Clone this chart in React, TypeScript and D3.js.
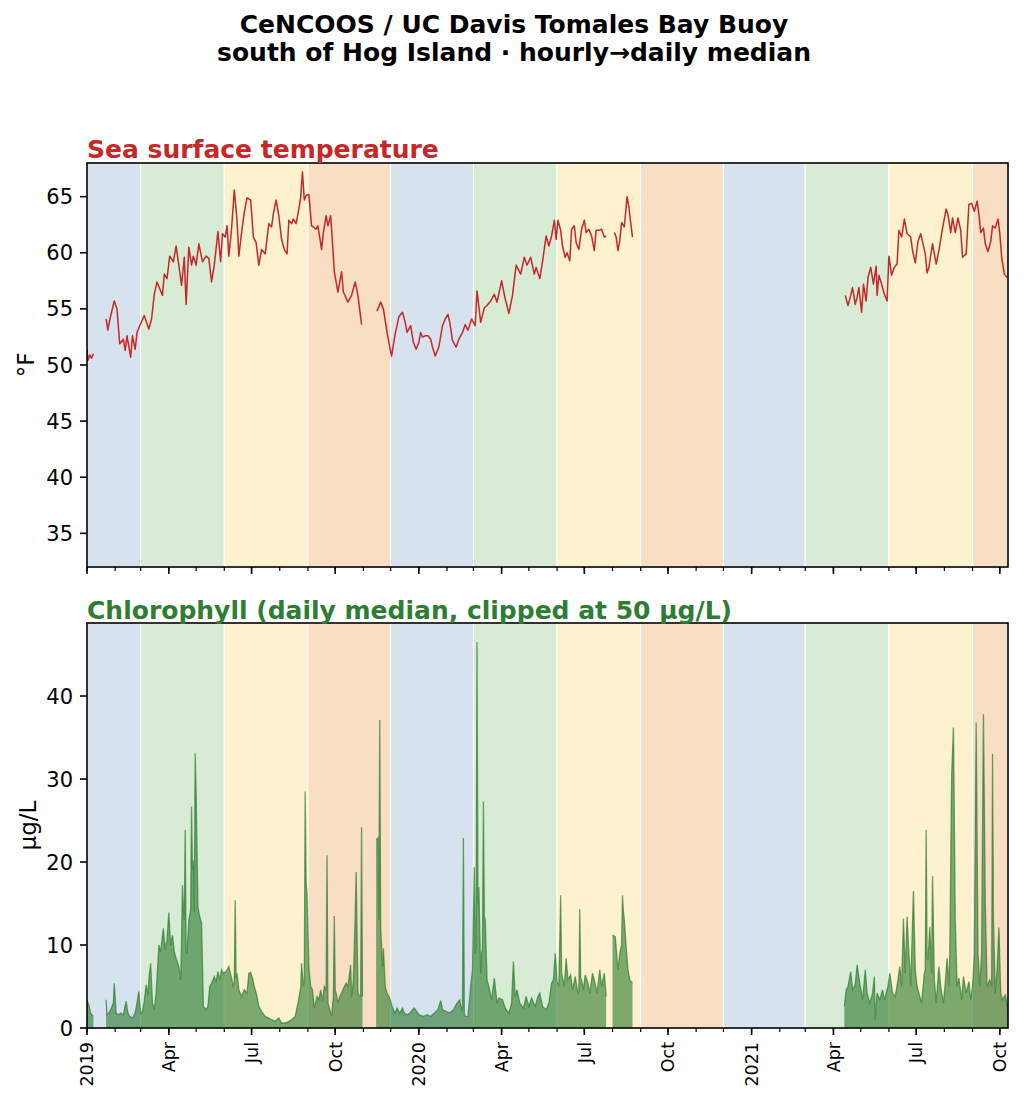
import React from 'react';
import * as d3 from 'd3';

// day offsets are counted from 2019-01-01, values are daily medians
const sst2019a: [number, number][] = [[0, 51.4], [1, 50.4], [3, 50.9], [5, 50.6], [7, 51.0]];
const sst2019b: [number, number][] = [
  [21, 54.1], [23, 53.1], [25, 54.0], [27, 54.7], [30, 55.7], [33, 55.0], [35, 52.9], [36, 51.9], [40, 52.3], [42, 51.3],
  [44, 52.6], [48, 50.7], [50, 52.6], [53, 51.4], [55, 52.9], [58, 53.5], [63, 54.4], [68, 53.2], [71, 54.1], [74, 56.3],
  [77, 57.4], [80, 56.8], [83, 56.2], [85, 58.1], [88, 57.7], [91, 59.7], [95, 59.2], [98, 60.6], [101, 58.9], [104, 57.1],
  [107, 59.6], [109, 55.4], [112, 60.5], [115, 58.9], [117, 59.7], [120, 58.9], [123, 60.8], [127, 59.2], [131, 59.7], [134, 59.5],
  [137, 57.4], [140, 58.9], [144, 61.9], [147, 59.2], [149, 61.7], [152, 61.4], [154, 62.4], [156, 59.7], [159, 62.1], [162, 65.6],
  [165, 62.9], [167, 59.7], [170, 61.8], [173, 63.6], [176, 64.9], [180, 64.7], [183, 61.4], [186, 60.9], [189, 58.9], [192, 60.3],
  [196, 59.9], [200, 62.6], [203, 62.3], [205, 63.5], [208, 64.7], [211, 63.3], [214, 61.2], [217, 60.3], [220, 59.9], [222, 62.9],
  [225, 62.6], [227, 63.0], [230, 62.6], [233, 63.9], [235, 64.9], [237, 67.2], [239, 64.7], [241, 65.1], [244, 65.2], [247, 62.4],
  [249, 62.3], [252, 62.1], [254, 62.4], [258, 60.3], [260, 61.8], [263, 63.3], [265, 62.4], [268, 63.3], [270, 60.9], [272, 58.3],
  [276, 56.5], [280, 58.3], [282, 56.5], [287, 55.6], [291, 56.2], [295, 57.4], [298, 56.2], [302, 53.6],
];
const sst2019c: [number, number][] = [
  [319, 54.8], [323, 55.6], [326, 55.0], [330, 52.9], [333, 51.6], [335, 50.8], [339, 52.8], [341, 53.5], [343, 54.3], [347, 54.7],
  [350, 53.8], [352, 52.9], [356, 53.5], [359, 52.0], [362, 51.4], [365, 52.0], [367, 52.9], [369, 52.5], [372, 52.6], [375, 52.6],
  [378, 52.3], [380, 51.6], [383, 50.8], [387, 51.6], [391, 53.5], [394, 54.1], [397, 54.5], [399, 53.8], [402, 52.2], [406, 51.6],
  [409, 52.3], [413, 52.9], [416, 53.6], [419, 53.1], [423, 54.1], [427, 53.5], [429, 56.6], [433, 53.8], [437, 55.1], [440, 55.3],
  [444, 55.7], [448, 56.3], [451, 55.6], [456, 57.5], [460, 55.9], [464, 54.6], [468, 56.2], [472, 58.9], [477, 58.1], [481, 59.6],
  [484, 58.9], [488, 59.6], [492, 58.1], [494, 58.7], [498, 57.7], [501, 59.2], [505, 61.5], [508, 60.6], [511, 61.5], [514, 62.9],
  [516, 61.2], [518, 62.9], [521, 62.0], [523, 60.6], [526, 59.6], [528, 60.0], [531, 59.3], [533, 62.1], [536, 62.4], [538, 60.9],
  [541, 60.3], [544, 62.1], [547, 62.9], [549, 61.8], [552, 62.1], [555, 61.5], [558, 60.2], [560, 62.0], [563, 62.0], [566, 62.1],
  [569, 61.4], [571, 61.5],
];
const sst2020: [number, number][] = [
  [580, 61.8], [582, 61.4], [584, 60.2], [586, 61.1], [588, 62.7], [591, 62.3], [594, 65.0], [596, 64.1], [598, 62.7], [600, 61.4],
];
const sst2021: [number, number][] = [
  [834, 56.2], [837, 55.3], [840, 56.2], [842, 56.9], [845, 55.4], [847, 56.0], [849, 56.9], [852, 54.7], [854, 57.2], [857, 55.7],
  [859, 57.8], [862, 58.7], [865, 57.2], [868, 58.8], [869, 56.2], [871, 58.0], [874, 57.2], [877, 56.3], [880, 55.7], [882, 59.7],
  [885, 58.0], [888, 58.7], [891, 59.0], [893, 62.0], [896, 61.4], [899, 63.0], [902, 61.7], [906, 61.4], [908, 60.2], [911, 59.1],
  [914, 61.0], [917, 61.7], [919, 61.0], [922, 59.9], [924, 58.2], [926, 58.7], [930, 60.8], [934, 59.0], [937, 60.2], [941, 62.2],
  [945, 63.9], [947, 63.4], [950, 61.8], [952, 63.1], [955, 61.8], [958, 63.1], [961, 62.0], [963, 59.6], [967, 59.9], [970, 64.3],
  [973, 64.4], [976, 63.7], [979, 64.6], [981, 63.4], [983, 61.8], [986, 62.2], [988, 60.8], [991, 60.1], [994, 61.0], [996, 62.4],
  [999, 62.2], [1002, 63.0], [1004, 61.7], [1006, 59.6], [1009, 58.1], [1012, 57.8],
];

const chl2019a: [number, number][] = [[0, 3.3], [2, 2.8], [4, 1.8], [6, 1.5], [7, 1.4]];
const chl2019b: [number, number][] = [
  [21, 3.4], [22, 1.6], [24, 1.8], [26, 2.2], [29, 3.0], [30, 5.4], [32, 1.8], [35, 1.6], [37, 1.8], [40, 1.6],
  [43, 3.2], [45, 1.8], [47, 1.4], [50, 1.2], [53, 1.8], [55, 3.0], [57, 4.4], [59, 1.8], [61, 2.0], [63, 3.2],
  [65, 5.2], [67, 4.0], [68, 5.8], [70, 7.8], [72, 3.0], [74, 2.2], [76, 4.2], [78, 7.8], [79, 10.0], [81, 9.2],
  [84, 12.0], [86, 9.4], [88, 10.6], [90, 13.9], [92, 10.0], [94, 11.2], [96, 9.2], [98, 8.4], [101, 7.4], [103, 5.8],
  [104, 10.3], [105, 17.2], [106, 14.2], [107, 13.0], [108, 23.9], [109, 9.5], [110, 9.0], [112, 13.0], [114, 14.2], [115, 26.7],
  [116, 19.0], [117, 20.2], [118, 14.0], [119, 33.1], [120, 28.3], [122, 14.6], [124, 13.4], [126, 12.6], [128, 2.6], [131, 2.2],
  [133, 2.6], [135, 5.0], [137, 5.4], [140, 6.2], [142, 5.6], [144, 6.8], [146, 5.8], [148, 7.0], [150, 6.6], [153, 6.8],
  [155, 7.2], [156, 7.4], [159, 6.0], [161, 5.0], [162, 5.5], [163, 15.4], [164, 6.0], [165, 6.6], [167, 4.6], [170, 3.8],
  [173, 4.6], [176, 4.2], [178, 6.6], [180, 6.7], [182, 6.0], [184, 5.0], [187, 3.8], [189, 2.6], [192, 2.0], [196, 1.4],
  [200, 1.2], [203, 1.0], [207, 0.8], [211, 1.2], [214, 0.6], [218, 0.6], [222, 0.8], [225, 1.0], [229, 1.4], [232, 3.0],
  [235, 4.8], [236, 7.8], [238, 5.0], [239, 5.8], [240, 28.5], [241, 17.5], [242, 16.2], [244, 7.4], [246, 5.0], [248, 4.6],
  [250, 2.4], [253, 3.8], [255, 3.4], [257, 4.6], [259, 3.2], [261, 5.0], [263, 4.5], [264, 20.8], [265, 3.0], [267, 2.2],
  [269, 1.4], [271, 3.8], [272, 13.5], [273, 4.5], [274, 4.2], [276, 3.0], [278, 3.8], [280, 4.2], [283, 5.0], [285, 5.4],
  [287, 5.0], [290, 7.6], [291, 3.8], [293, 5.8], [295, 13.4], [296, 18.8], [298, 4.2], [300, 3.8], [301, 3.8], [302, 24.2],
  [303, 3.8],
];
const chl2019c: [number, number][] = [
  [318, 22.7], [320, 22.9], [321, 13.0], [322, 37.1], [323, 12.2], [325, 7.4], [326, 9.6], [328, 5.0], [330, 4.2], [333, 3.6],
  [335, 2.8], [337, 2.2], [339, 1.8], [341, 2.4], [344, 1.8], [347, 2.4], [349, 1.8], [352, 1.6], [355, 1.8], [358, 2.2],
  [360, 2.4], [365, 1.6], [370, 1.4], [374, 1.6], [378, 1.4], [382, 1.8], [386, 2.2], [389, 3.3], [391, 2.2], [395, 2.0],
  [399, 1.8], [403, 2.2], [407, 3.0], [410, 3.4], [412, 2.2], [413, 2.5], [414, 22.9], [415, 1.8], [416, 1.4], [419, 1.4],
  [422, 5.0], [424, 7.0], [426, 19.4], [427, 9.0], [428, 10.0], [429, 46.5], [430, 15.0], [431, 17.0], [433, 6.6], [434, 9.0],
  [435, 9.5], [436, 27.3], [437, 13.5], [438, 13.0], [440, 5.8], [442, 5.0], [445, 3.4], [448, 6.0], [451, 3.0], [453, 3.6],
  [457, 3.4], [460, 2.4], [464, 1.8], [467, 3.0], [469, 8.0], [471, 3.8], [473, 4.6], [476, 3.0], [480, 2.4], [483, 3.8],
  [486, 2.6], [489, 3.6], [493, 2.6], [496, 3.8], [498, 4.2], [501, 2.6], [505, 2.2], [508, 3.0], [511, 5.4], [513, 5.8],
  [515, 9.0], [517, 5.6], [519, 5.0], [521, 16.0], [522, 6.6], [525, 5.0], [527, 8.4], [529, 5.8], [532, 6.4], [534, 4.6],
  [537, 6.2], [540, 4.2], [541, 4.5], [542, 14.3], [543, 6.0], [544, 5.8], [546, 4.6], [548, 6.4], [551, 5.4], [553, 4.2],
  [556, 6.6], [558, 5.8], [561, 4.2], [564, 7.0], [566, 5.0], [569, 6.6], [571, 3.8],
];
const chl2020: [number, number][] = [
  [578, 11.2], [581, 11.0], [584, 7.0], [586, 9.0], [588, 10.0], [589, 16.0], [590, 14.0], [591, 13.0], [593, 9.8], [595, 7.0],
  [597, 5.8], [600, 5.4],
];
const chl2021: [number, number][] = [
  [833, 2.6], [835, 4.6], [837, 5.0], [840, 6.8], [842, 4.6], [845, 5.2], [847, 7.6], [850, 5.4], [853, 3.4], [856, 7.0],
  [858, 4.2], [861, 3.0], [864, 4.2], [866, 6.2], [867, 1.0], [869, 4.2], [872, 3.4], [875, 4.6], [877, 3.4], [881, 5.0],
  [883, 6.6], [886, 4.2], [889, 3.8], [892, 5.8], [894, 7.4], [896, 5.0], [898, 13.2], [900, 6.6], [902, 13.4], [904, 9.0],
  [906, 5.0], [907, 9.0], [909, 16.5], [911, 7.0], [913, 5.0], [916, 3.8], [918, 3.0], [921, 6.6], [922, 7.0], [923, 23.9],
  [924, 8.5], [925, 8.2], [927, 12.2], [929, 6.6], [930, 18.3], [932, 5.8], [934, 3.0], [937, 7.4], [939, 5.0], [942, 3.0],
  [944, 5.4], [946, 8.4], [948, 5.0], [949, 9.2], [951, 30.3], [953, 36.2], [955, 13.0], [957, 5.0], [959, 6.0], [962, 3.4],
  [964, 6.2], [967, 4.2], [970, 5.6], [972, 3.4], [974, 5.0], [976, 9.0], [978, 36.8], [980, 9.0], [982, 5.0], [984, 9.0],
  [986, 37.8], [988, 15.0], [990, 5.0], [993, 5.8], [995, 5.0], [996, 33.0], [997, 13.0], [999, 4.2], [1001, 7.0], [1003, 12.1],
  [1005, 4.2], [1007, 3.4], [1010, 4.0], [1013, 2.2],
];

const sstSegments = [sst2019a, sst2019b, sst2019c, sst2020, sst2021];
const chlSegments = [chl2019a, chl2019b, chl2019c, chl2020, chl2021];

const sstTicks = [35, 40, 45, 50, 55, 60, 65];
const chlTicks = [0, 10, 20, 30, 40];

// season of each band, keyed by the month it starts in
const seasonMonths = [11, 2, 5, 8];
const seasonColors = ['#d6e2ee', '#d8ebd5', '#fef1cd', '#f8dec3'];

const FONT = 'DejaVu Sans, sans-serif';
const W = 1026;
const H = 1105;
const left = 87;
const right = 1008;
const top1 = 163, bottom1 = 567;
const top2 = 623, bottom2 = 1028;

const day = (d: number) => new Date(2019, 0, 1 + d);

export default function App() {
  const x = d3.scaleTime().domain([day(0), day(1013)]).range([left, right]);
  const ySst = d3.scaleLinear().domain([32, 68]).range([bottom1, top1]);
  const yChl = d3.scaleLinear().domain([0, 48.8]).range([bottom2, top2]);

  const [d0, d1] = x.domain();
  const bounds: Date[] = [];
  for (let yr = 2018; yr <= 2021; yr++) {
    [2, 5, 8, 11].forEach((m) => bounds.push(new Date(yr, m, 1)));
  }
  const bands = bounds.slice(0, -1).map((b, i) => {
    const s = b < d0 ? d0 : b;
    const e = bounds[i + 1] > d1 ? d1 : bounds[i + 1];
    return { s, e, color: seasonColors[seasonMonths.indexOf(b.getMonth())] };
  }).filter((b) => b.e > b.s);

  const majors = d3.timeMonth.every(3)!.range(d0, d1);
  const minors = d3.timeMonth.range(d0, d1);
  const fmt = (d: Date) => (d.getMonth() === 0 ? d3.timeFormat('%Y')(d) : d3.timeFormat('%b')(d));

  const sstLine = d3.line<[number, number]>().x((p) => x(day(p[0]))).y((p) => ySst(p[1]));
  const chlLine = d3.line<[number, number]>().x((p) => x(day(p[0]))).y((p) => yChl(p[1]));
  const chlArea = d3.area<[number, number]>().x((p) => x(day(p[0]))).y0(yChl(0)).y1((p) => yChl(p[1]));

  const panel = (top: number, bottom: number, y: d3.ScaleLinear<number, number>, ticks: number[], showLabels: boolean) => (
    <g>
      {bands.map((b, i) => (
        <rect key={i} x={x(b.s)} y={top} width={x(b.e) - x(b.s)} height={bottom - top}
          fill={b.color} stroke="#ffffff" strokeWidth={1} />
      ))}
      {ticks.map((t) => (
        <g key={t}>
          <line x1={left - 7} x2={left} y1={y(t)} y2={y(t)} stroke="#000" strokeWidth={1.6} />
          <text x={left - 14} y={y(t)} dy="0.36em" textAnchor="end" fontSize={21} fontFamily={FONT}>{t}</text>
        </g>
      ))}
      {minors.map((m, i) => (
        <line key={'m' + i} x1={x(m)} x2={x(m)} y1={bottom} y2={bottom + 4} stroke="#000" strokeWidth={1.2} />
      ))}
      {majors.map((m, i) => (
        <g key={'M' + i}>
          <line x1={x(m)} x2={x(m)} y1={bottom} y2={bottom + 7} stroke="#000" strokeWidth={1.6} />
          {showLabels && (
            <text transform={`translate(${x(m)},${bottom + 14}) rotate(-90)`} textAnchor="end" dy="0.36em"
              fontSize={17.5} fontFamily={FONT}>{fmt(m)}</text>
          )}
        </g>
      ))}
    </g>
  );

  return (
    <svg width={W} height={H} style={{ position: 'absolute', left: 0, top: 0, background: '#fff' }}>
      <rect width={W} height={H} fill="#fff" />
      <text x={514} y={33} textAnchor="middle" fontSize={25} fontWeight="bold" fontFamily={FONT}>
        CeNCOOS / UC Davis Tomales Bay Buoy
      </text>
      <text x={514} y={61} textAnchor="middle" fontSize={25} fontWeight="bold" fontFamily={FONT}>
        south of Hog Island · hourly→daily median
      </text>

      {panel(top1, bottom1, ySst, sstTicks, false)}
      <defs>
        <clipPath id="c1"><rect x={left} y={top1} width={right - left} height={bottom1 - top1} /></clipPath>
        <clipPath id="c2"><rect x={left} y={top2} width={right - left} height={bottom2 - top2} /></clipPath>
      </defs>
      <g clipPath="url(#c1)">
        {sstSegments.map((s, i) => (
          <path key={i} d={sstLine(s) || ''} fill="none" stroke="#c62828" strokeWidth={1.5} strokeLinejoin="round" />
        ))}
      </g>
      <rect x={left} y={top1} width={right - left} height={bottom1 - top1} fill="none" stroke="#000" strokeWidth={1.6} />
      <text x={left} y={158} fontSize={25} fontWeight="bold" fill="#c62828" fontFamily={FONT}>Sea surface temperature</text>
      <text transform={`translate(26,${(top1 + bottom1) / 2}) rotate(-90)`} textAnchor="middle" dy="0.36em"
        fontSize={23} fontFamily={FONT}>°F</text>

      {panel(top2, bottom2, yChl, chlTicks, true)}
      <g clipPath="url(#c2)">
        {chlSegments.map((s, i) => (
          <g key={i}>
            <path d={chlArea(s) || ''} fill="#2e7d32" fillOpacity={0.62} stroke="none" />
            <path d={chlLine(s) || ''} fill="none" stroke="#2e7d32" strokeOpacity={0.7} strokeWidth={1.3} />
          </g>
        ))}
      </g>
      <rect x={left} y={top2} width={right - left} height={bottom2 - top2} fill="none" stroke="#000" strokeWidth={1.6} />
      <text x={left} y={619} fontSize={25} fontWeight="bold" fill="#2e7d32" fontFamily={FONT}>
        Chlorophyll (daily median, clipped at 50 µg/L)
      </text>
      <text transform={`translate(28,${(top2 + bottom2) / 2}) rotate(-90)`} textAnchor="middle" dy="0.36em"
        fontSize={23} fontFamily={FONT}>µg/L</text>
    </svg>
  );
}
